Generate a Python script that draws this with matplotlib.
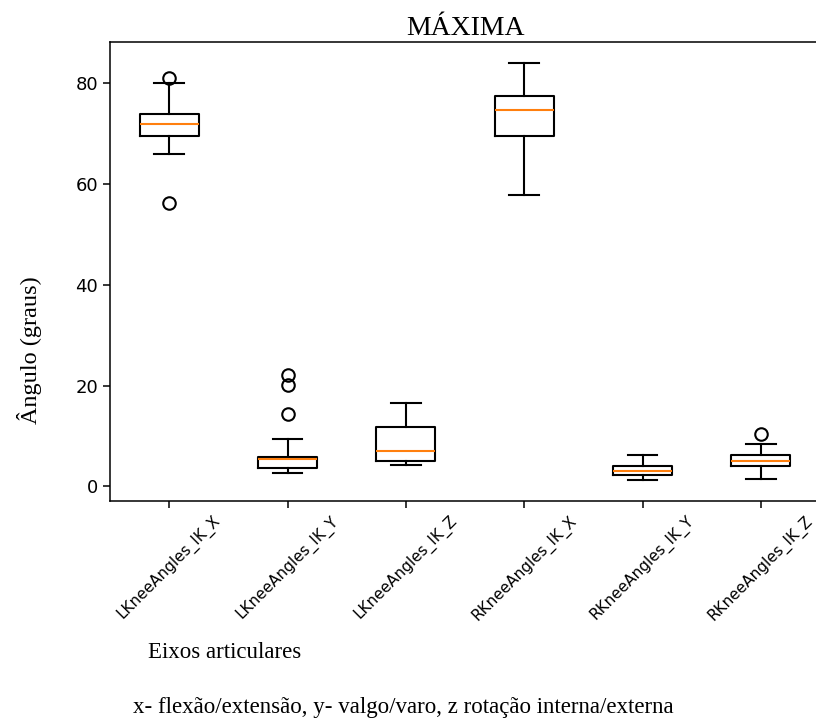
import matplotlib.pyplot as plt

# joint axes and the box statistics for each one (degrees)
labels = ["LKneeAngles_IK_X", "LKneeAngles_IK_Y", "LKneeAngles_IK_Z",
          "RKneeAngles_IK_X", "RKneeAngles_IK_Y", "RKneeAngles_IK_Z"]
medians = [71.9, 5.5, 7.1, 74.7, 3.1, 5.1]
q1 = [69.5, 3.75, 5.1, 69.5, 2.25, 4.0]
q3 = [73.9, 5.9, 11.85, 77.5, 4.1, 6.3]
whislo = [65.9, 2.6, 4.3, 57.7, 1.26, 1.5]
whishi = [80.0, 9.4, 16.5, 84.0, 6.26, 8.4]
fliers = [[81.0, 56.2], [22.2, 20.1, 14.4], [], [], [], [10.35]]

serif = "Liberation Serif"

stats = []
for i in range(len(labels)):
    stats.append({"med": medians[i], "q1": q1[i], "q3": q3[i],
                  "whislo": whislo[i], "whishi": whishi[i],
                  "fliers": fliers[i], "label": labels[i]})

fig = plt.figure(figsize=(8.16, 7.24), dpi=100)
ax = fig.add_axes([110/816, 1 - 501/724, 710/816, 459/724])

lw = 1.5
ax.bxp(stats, widths=0.5,
       boxprops=dict(lw=lw), whiskerprops=dict(lw=lw), capprops=dict(lw=lw),
       medianprops=dict(lw=lw, color="C1"),
       flierprops=dict(marker="o", markersize=9, markeredgewidth=lw, markerfacecolor="none"))
ax.set_xlim(0.5, 6.5)

for s in ax.spines.values():
    s.set_linewidth(1.1)
ax.tick_params(axis="y", labelsize=13, length=5, width=1.1)
ax.tick_params(axis="x", labelsize=11, length=5, width=1.1)
plt.setp(ax.get_xticklabels(), rotation=45)

ax.set_title("MÁXIMA", family=serif, fontsize=20, pad=5)
fig.text(30/816, 1 - 350/724, "Ângulo (graus)", family=serif, fontsize=17.5,
         rotation=90, ha="center", va="center")
fig.text(148/816, 1 - 652/724, "Eixos articulares", family=serif, fontsize=16.5,
         ha="left", va="center")
fig.text(133/816, 1 - 707/724, "x- flexão/extensão, y- valgo/varo, z rotação interna/externa",
         family=serif, fontsize=16.5, ha="left", va="center")

fig.savefig("out.png", dpi=100)
